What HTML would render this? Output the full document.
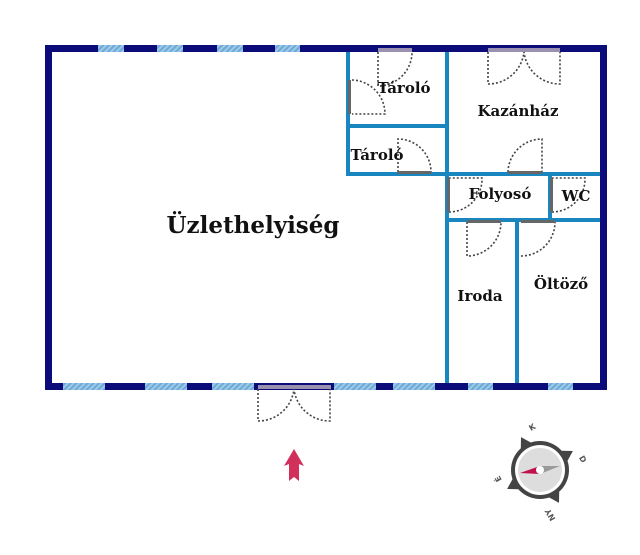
<!DOCTYPE html>
<html><head><style>body{margin:0;background:#fff}svg{display:block}</style></head><body>
<svg width="640" height="555" xmlns="http://www.w3.org/2000/svg">
<defs><pattern id="h" width="4" height="4" patternUnits="userSpaceOnUse" patternTransform="rotate(45)"><rect width="4" height="4" fill="#9ccbe8"/><rect width="2" height="4" fill="#6fa8d6"/></pattern></defs>
<rect x="48.5" y="48.5" width="555" height="338" fill="none" stroke="#0b0b7a" stroke-width="7"/>
<g fill="url(#h)">
<rect x="98" y="45" width="26" height="7"/><rect x="157" y="45" width="26" height="7"/><rect x="217" y="45" width="26" height="7"/><rect x="275" y="45" width="25" height="7"/>
<rect x="63" y="383" width="42" height="7"/><rect x="145" y="383" width="42" height="7"/><rect x="212" y="383" width="42" height="7"/><rect x="334" y="383" width="42" height="7"/><rect x="393" y="383" width="42" height="7"/><rect x="468" y="383" width="25" height="7"/><rect x="548" y="383" width="25" height="7"/>
</g>
<g fill="#9a90b0"><rect x="378" y="48" width="34" height="4"/><rect x="488" y="48" width="72" height="4"/><rect x="258" y="385" width="73" height="4"/></g>
<g stroke="#1a86c0" stroke-width="4" fill="none">
<line x1="348" y1="52" x2="348" y2="176"/><line x1="348" y1="126" x2="447" y2="126"/><line x1="346" y1="174" x2="600" y2="174"/>
<line x1="447" y1="52" x2="447" y2="383"/><line x1="550" y1="174" x2="550" y2="220"/><line x1="447" y1="220" x2="600" y2="220"/><line x1="517" y1="220" x2="517" y2="383"/>
</g>
<g stroke="#444" stroke-width="1.6" stroke-dasharray="2,2" fill="none">
<path d="M378 52 V86 A34 34 0 0 0 412 52"/>
<path d="M352 80 A34 34 0 0 1 385 114 H352"/>
<path d="M398 172 V139 A33 33 0 0 1 431 172"/>
<path d="M488 52 V84 A36 36 0 0 0 524 52 A36 36 0 0 0 560 84 V52"/>
<path d="M508 172 A34 34 0 0 1 542 139 V172"/>
<path d="M449 212 A33 33 0 0 0 482 178 H449"/>
<path d="M552 212 A33 33 0 0 0 585 178 H552"/>
<path d="M467 222 V256 A34 34 0 0 0 501 222"/>
<path d="M521 256 A34 34 0 0 0 555 222"/>
<path d="M258 389 V421 A36 36 0 0 0 294 389 A36 36 0 0 0 330 421 V389"/>
</g>
<g fill="#666"><rect x="348" y="80" width="3" height="34"/><rect x="398" y="171" width="33" height="3"/><rect x="508" y="171" width="34" height="3"/><rect x="447" y="178" width="3" height="34"/><rect x="550" y="178" width="3" height="34"/><rect x="467" y="220" width="34" height="3"/><rect x="521" y="220" width="34" height="3"/></g>
<g font-family="'DejaVu Serif','Liberation Serif',serif" font-weight="bold" fill="#111" text-anchor="middle" font-size="15">
<text x="253" y="233" font-size="23">Üzlethelyiség</text>
<text x="404" y="93">Tároló</text><text x="377" y="160">Tároló</text><text x="518" y="116">Kazánház</text>
<text x="500" y="199">Folyosó</text><text x="576" y="201">WC</text><text x="480" y="301">Iroda</text><text x="561" y="289">Öltöző</text>
</g>
<path d="M294 449 L304 466 L299 464 L299 481 L294 477 L289 481 L289 464 L284 466 Z" fill="#d0305a"/>
<g transform="translate(540,470)">
<g transform="rotate(-30)" fill="#444"><path d="M-6 -28 L0 -38 L6 -28Z"/><path d="M-6 28 L0 38 L6 28Z"/><path d="M-28 -6 L-38 0 L-28 6Z"/><path d="M28 -6 L38 0 L28 6Z"/></g>
<circle r="29" fill="#444"/><circle r="25" fill="#fff"/><circle r="22" fill="#ddd"/>
<path d="M-20 3 L0 -4 L0 4Z" fill="#c0104a"/><path d="M20 -4 L0 -4 L0 4Z" fill="#999"/><circle r="4" fill="#fff"/>
<g font-family="'DejaVu Sans',sans-serif" font-size="8" font-weight="bold" fill="#555" text-anchor="middle">
<text x="-8" y="-40" transform="rotate(-30 -8 -43)">K</text><text x="43" y="-8" transform="rotate(60 43 -11)">D</text><text x="10" y="48" transform="rotate(-120 10 45)">NY</text><text x="-42" y="12" transform="rotate(-120 -42 9)">É</text>
</g></g>
</svg>
</body></html>
